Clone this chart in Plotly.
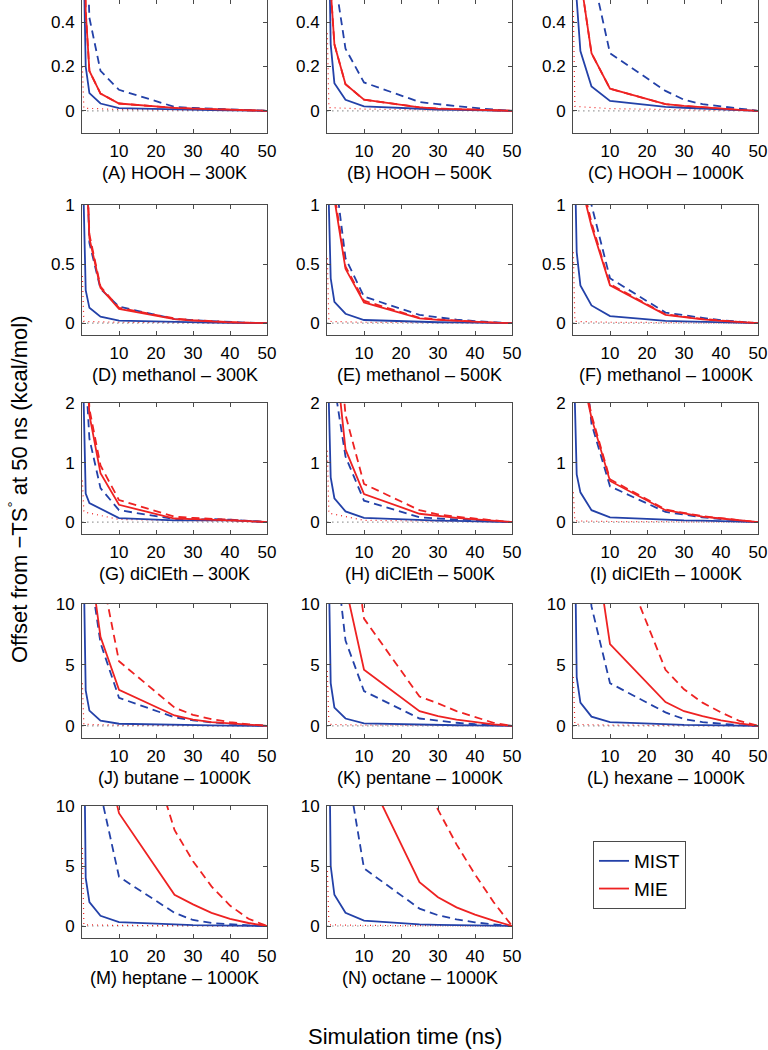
import plotly.graph_objects as go

# sample times (ns) for the convergence curves
T = [0.1, 1, 2, 5, 10, 25, 30, 35, 40, 45, 50]
# sample times for the dotted reference traces
T_DOT = [0.1, 0.5, 10, 50]
ZERO_DOT = [0, 0, 0, 0]

# (A) HOOH 300K
MIST_A = [1.0, 0.2, 0.08, 0.033, 0.012, 0.005, 0.004, 0.003, 0.002, 0.001, 0]
MIST_DASH_A = [3.0, 0.9, 0.42, 0.18, 0.095, 0.018, 0.013, 0.009, 0.006, 0.003, 0]
MIE_A = [1.5, 0.45, 0.18, 0.078, 0.033, 0.013, 0.01, 0.007, 0.005, 0.002, 0]
MIE_DASH_A = [1.5, 0.45, 0.18, 0.078, 0.033, 0.013, 0.01, 0.007, 0.005, 0.002, 0]
DOT_A = [0.2, 0.012, 0.006, 0]

# (B) HOOH 500K
MIST_B = [1.2, 0.3, 0.125, 0.05, 0.02, 0.008, 0.006, 0.004, 0.003, 0.001, 0]
MIST_DASH_B = [3.0, 1.2, 0.61, 0.28, 0.128, 0.04, 0.03, 0.02, 0.013, 0.006, 0]
MIE_B = [2.0, 0.55, 0.3, 0.12, 0.05, 0.016, 0.01, 0.007, 0.005, 0.002, 0]
MIE_DASH_B = [2.0, 0.55, 0.3, 0.12, 0.05, 0.016, 0.01, 0.007, 0.005, 0.002, 0]
DOT_B = [0.35, 0.015, 0.008, 0]

# (C) HOOH 1000K
MIST_C = [1.5, 0.5, 0.27, 0.11, 0.045, 0.018, 0.014, 0.01, 0.006, 0.003, 0]
MIST_DASH_C = [4.0, 2.0, 1.2, 0.64, 0.26, 0.09, 0.05, 0.03, 0.02, 0.01, 0]
MIE_C = [3.0, 1.0, 0.6, 0.26, 0.1, 0.03, 0.022, 0.015, 0.009, 0.004, 0]
MIE_DASH_C = [3.0, 1.0, 0.6, 0.26, 0.1, 0.03, 0.022, 0.015, 0.009, 0.004, 0]
DOT_C = [0.45, 0.02, 0.01, 0]

# (D) methanol 300K
MIST_D = [1.5, 0.28, 0.13, 0.055, 0.022, 0.008, 0.006, 0.004, 0.003, 0.001, 0]
MIST_DASH_D = [4.0, 1.6, 0.68, 0.29, 0.14, 0.035, 0.025, 0.016, 0.01, 0.004, 0]
MIE_D = [4.0, 1.5, 0.72, 0.30, 0.12, 0.035, 0.022, 0.013, 0.007, 0.003, 0]
MIE_DASH_D = [4.5, 1.6, 0.75, 0.31, 0.13, 0.04, 0.026, 0.016, 0.009, 0.004, 0]
DOT_D = [0.4, 0.015, 0.008, 0]

# (E) methanol 500K
MIST_E = [1.5, 0.38, 0.18, 0.08, 0.027, 0.01, 0.008, 0.006, 0.004, 0.002, 0]
MIST_DASH_E = [5.0, 2.5, 1.3, 0.55, 0.225, 0.07, 0.05, 0.03, 0.018, 0.008, 0]
MIE_E = [5.0, 2.5, 1.05, 0.46, 0.176, 0.04, 0.028, 0.018, 0.01, 0.004, 0]
MIE_DASH_E = [5.0, 2.6, 1.1, 0.48, 0.19, 0.045, 0.032, 0.02, 0.012, 0.005, 0]
DOT_E = [0.55, 0.015, 0.008, 0]

# (F) methanol 1000K
MIST_F = [2.0, 0.6, 0.32, 0.15, 0.06, 0.02, 0.015, 0.01, 0.006, 0.003, 0]
MIST_DASH_F = [6.0, 3.5, 2.5, 1.0, 0.38, 0.09, 0.065, 0.045, 0.025, 0.01, 0]
MIE_F = [5.0, 2.5, 1.2, 0.82, 0.32, 0.07, 0.05, 0.033, 0.02, 0.008, 0]
MIE_DASH_F = [5.0, 2.6, 1.25, 0.85, 0.33, 0.075, 0.054, 0.036, 0.022, 0.009, 0]
DOT_F = [0.6, 0.015, 0.008, 0]

# (G) diClEth 300K
MIST_G = [3.0, 0.48, 0.32, 0.22, 0.067, 0.03, 0.03, 0.04, 0.03, 0.015, 0]
MIST_DASH_G = [5.0, 2.5, 1.4, 0.57, 0.2, 0.05, 0.04, 0.05, 0.04, 0.02, 0]
MIE_G = [5.0, 3.0, 1.8, 0.82, 0.29, 0.06, 0.05, 0.045, 0.03, 0.015, 0]
MIE_DASH_G = [6.0, 3.5, 1.9, 0.95, 0.37, 0.09, 0.07, 0.06, 0.04, 0.02, 0]
DOT_G = [0.7, 0.17, 0.045, 0]

# (H) diClEth 500K
MIST_H = [3.0, 0.75, 0.4, 0.18, 0.07, 0.03, 0.025, 0.02, 0.015, 0.008, 0]
MIST_DASH_H = [6.0, 3.5, 2.3, 1.1, 0.36, 0.08, 0.06, 0.045, 0.03, 0.015, 0]
MIE_H = [6.0, 4.0, 3.0, 1.22, 0.47, 0.14, 0.1, 0.07, 0.045, 0.02, 0]
MIE_DASH_H = [7.0, 5.0, 4.0, 1.8, 0.64, 0.2, 0.13, 0.09, 0.06, 0.03, 0]
DOT_H = [1.2, 0.15, 0.03, 0]

# (I) diClEth 1000K
MIST_I = [3.0, 0.8, 0.5, 0.2, 0.08, 0.035, 0.03, 0.025, 0.018, 0.008, 0]
MIST_DASH_I = [7.0, 5.0, 3.5, 1.65, 0.6, 0.17, 0.12, 0.08, 0.05, 0.02, 0]
MIE_I = [7.0, 4.5, 2.6, 1.75, 0.69, 0.2, 0.14, 0.09, 0.06, 0.025, 0]
MIE_DASH_I = [7.0, 4.6, 2.7, 1.8, 0.72, 0.21, 0.15, 0.1, 0.065, 0.028, 0]
DOT_I = [0.5, 0.02, 0.01, 0]

# (J) butane 1000K
MIST_J = [20, 2.9, 1.25, 0.42, 0.17, 0.05, 0.04, 0.03, 0.02, 0.01, 0]
MIST_DASH_J = [30, 20, 13, 6.8, 2.3, 0.7, 0.45, 0.28, 0.15, 0.07, 0]
MIE_J = [40, 25, 14, 7.3, 2.95, 0.85, 0.5, 0.3, 0.18, 0.08, 0]
MIE_DASH_J = [50, 35, 22, 13, 5.3, 1.5, 0.9, 0.55, 0.3, 0.12, 0]
DOT_J = [3.5, 0.12, 0.06, 0]

# (K) pentane 1000K
MIST_K = [20, 3.5, 1.5, 0.6, 0.2, 0.08, 0.06, 0.045, 0.03, 0.015, 0]
MIST_DASH_K = [35, 22, 15, 7.0, 2.85, 0.6, 0.4, 0.25, 0.13, 0.05, 0]
MIE_K = [40, 25, 18, 11.5, 4.6, 1.2, 0.8, 0.5, 0.3, 0.12, 0]
MIE_DASH_K = [60, 40, 30, 20, 8.8, 2.4, 1.85, 1.2, 0.7, 0.25, 0]
DOT_K = [4.5, 0.12, 0.06, 0]

# (L) hexane 1000K
MIST_L = [25, 4.0, 1.9, 0.75, 0.3, 0.1, 0.08, 0.06, 0.04, 0.02, 0]
MIST_DASH_L = [40, 25, 18, 9.8, 3.5, 1.1, 0.55, 0.3, 0.15, 0.05, 0]
MIE_L = [50, 30, 25, 17, 6.7, 1.95, 1.2, 0.8, 0.45, 0.2, 0]
MIE_DASH_L = [70, 50, 35, 25, 16, 4.6, 3.0, 1.9, 1.1, 0.4, 0]
DOT_L = [4.0, 0.12, 0.06, 0]

# (M) heptane 1000K
MIST_M = [30, 4.0, 2.0, 0.85, 0.33, 0.1, 0.08, 0.06, 0.04, 0.02, 0]
MIST_DASH_M = [50, 30, 20, 11.1, 4.1, 1.1, 0.5, 0.25, 0.12, 0.05, 0]
MIE_M = [60, 40, 30, 16, 9.4, 2.6, 1.8, 1.1, 0.6, 0.25, 0]
MIE_DASH_M = [80, 60, 45, 35, 23, 8.0, 5.4, 3.3, 1.7, 0.6, 0]
DOT_M = [6.5, 0.1, 0.05, 0]

# (N) octane 1000K
MIST_N = [30, 5.0, 2.6, 1.1, 0.45, 0.14, 0.1, 0.07, 0.05, 0.02, 0]
MIST_DASH_N = [50, 35, 25, 14, 4.8, 1.45, 0.9, 0.55, 0.3, 0.13, 0]
MIE_N = [60, 40, 30, 20, 13.2, 3.65, 2.4, 1.55, 0.95, 0.45, 0]
MIE_DASH_N = [90, 70, 55, 45, 30, 12.5, 9.7, 6.8, 4.3, 2.0, 0]
DOT_N = [5.0, 0.1, 0.05, 0]

PANELS = [
    ("(A) HOOH – 300K", MIST_A, MIST_DASH_A, MIE_A, MIE_DASH_A, DOT_A),
    ("(B) HOOH – 500K", MIST_B, MIST_DASH_B, MIE_B, MIE_DASH_B, DOT_B),
    ("(C) HOOH – 1000K", MIST_C, MIST_DASH_C, MIE_C, MIE_DASH_C, DOT_C),
    ("(D) methanol – 300K", MIST_D, MIST_DASH_D, MIE_D, MIE_DASH_D, DOT_D),
    ("(E) methanol – 500K", MIST_E, MIST_DASH_E, MIE_E, MIE_DASH_E, DOT_E),
    ("(F) methanol – 1000K", MIST_F, MIST_DASH_F, MIE_F, MIE_DASH_F, DOT_F),
    ("(G) diClEth – 300K", MIST_G, MIST_DASH_G, MIE_G, MIE_DASH_G, DOT_G),
    ("(H) diClEth – 500K", MIST_H, MIST_DASH_H, MIE_H, MIE_DASH_H, DOT_H),
    ("(I) diClEth – 1000K", MIST_I, MIST_DASH_I, MIE_I, MIE_DASH_I, DOT_I),
    ("(J) butane – 1000K", MIST_J, MIST_DASH_J, MIE_J, MIE_DASH_J, DOT_J),
    ("(K) pentane – 1000K", MIST_K, MIST_DASH_K, MIE_K, MIE_DASH_K, DOT_K),
    ("(L) hexane – 1000K", MIST_L, MIST_DASH_L, MIE_L, MIE_DASH_L, DOT_L),
    ("(M) heptane – 1000K", MIST_M, MIST_DASH_M, MIE_M, MIE_DASH_M, DOT_M),
    ("(N) octane – 1000K", MIST_N, MIST_DASH_N, MIE_N, MIE_DASH_N, DOT_N),
]

Y_RANGES = [[-0.1, 0.5], [-0.1, 1], [-0.2, 2], [-1, 10], [-1, 10]]
Y_TICKS = [[0, 0.2, 0.4], [0, 0.5, 1], [0, 1, 2], [0, 5, 10], [0, 5, 10]]
X_TICKS = [10, 20, 30, 40, 50]

# page layout in pixels
W, H = 768, 1050
COLS = [(82, 267), (327, 512), (573, 758)]
ROWS = [(0, 133), (205, 335), (403, 534), (604, 738), (806, 938)]

BLUE = "#2341a8"
RED = "#ee2222"
AXIS = "#4a4a4a"
FONT = "Liberation Sans, Arial, sans-serif"

fig = go.Figure()
layout = {}
annotations = []

for i, (title, mist, mist_d, mie, mie_d, dot) in enumerate(PANELS):
    r, c = divmod(i, 3)
    n = i + 1
    xa = "x" if n == 1 else f"x{n}"
    ya = "y" if n == 1 else f"y{n}"
    x0, x1 = COLS[c]
    top, bot = ROWS[r]

    fig.add_trace(go.Scatter(x=T_DOT, y=ZERO_DOT, mode="lines", xaxis=xa, yaxis=ya,
                             line=dict(color="#666666", width=1.2, dash="1px,4px"),
                             showlegend=False, hoverinfo="skip"))
    fig.add_trace(go.Scatter(x=T_DOT, y=dot, mode="lines", xaxis=xa, yaxis=ya,
                             line=dict(color=RED, width=1.2, dash="1px,4px"),
                             showlegend=False, hoverinfo="skip"))
    fig.add_trace(go.Scatter(x=T, y=mist_d, mode="lines", xaxis=xa, yaxis=ya,
                             line=dict(color=BLUE, width=1.8, dash="8px,5px"),
                             showlegend=False))
    fig.add_trace(go.Scatter(x=T, y=mie_d, mode="lines", xaxis=xa, yaxis=ya,
                             line=dict(color=RED, width=1.8, dash="8px,5px"),
                             showlegend=False))
    fig.add_trace(go.Scatter(x=T, y=mist, mode="lines", xaxis=xa, yaxis=ya,
                             line=dict(color=BLUE, width=1.8),
                             name="MIST", showlegend=(i == 0)))
    fig.add_trace(go.Scatter(x=T, y=mie, mode="lines", xaxis=xa, yaxis=ya,
                             line=dict(color=RED, width=1.8),
                             name="MIE", showlegend=(i == 0)))

    axis_common = dict(
        showline=True, linecolor=AXIS, linewidth=1, mirror="ticks",
        ticks="inside", ticklen=4, tickcolor=AXIS, showgrid=False,
        zeroline=False, tickfont=dict(size=17, color="black", family=FONT),
    )
    layout["xaxis" if n == 1 else f"xaxis{n}"] = dict(
        axis_common, domain=[x0 / W, x1 / W], anchor=ya, range=[0, 50],
        tickvals=X_TICKS, ticklabelstandoff=3,
    )
    layout["yaxis" if n == 1 else f"yaxis{n}"] = dict(
        axis_common, domain=[1 - bot / H, 1 - top / H], anchor=xa,
        range=Y_RANGES[r], tickvals=Y_TICKS[r], ticklabelstandoff=3,
    )
    annotations.append(dict(
        text=title, xref="paper", yref="paper", x=(x0 + x1) / 2 / W,
        y=1 - (bot + 40) / H, xanchor="center", yanchor="middle",
        showarrow=False, font=dict(size=18, color="black", family=FONT),
    ))

annotations.append(dict(
    text="Offset from −TS<sup>°</sup> at 50 ns (kcal/mol)", textangle=-90,
    xref="paper", yref="paper", x=18 / W, y=1 - 490 / H,
    xanchor="center", yanchor="middle", showarrow=False,
    font=dict(size=22, color="black", family=FONT),
))
annotations.append(dict(
    text="Simulation time (ns)", xref="paper", yref="paper",
    x=405 / W, y=1 - 1036 / H, xanchor="center", yanchor="middle",
    showarrow=False, font=dict(size=22, color="black", family=FONT),
))

fig.update_layout(
    **layout,
    annotations=annotations,
    width=W, height=H,
    margin=dict(l=0, r=0, t=0, b=0, autoexpand=False),
    paper_bgcolor="white", plot_bgcolor="white",
    showlegend=True,
    legend=dict(
        x=593 / W, y=1 - 841 / H, xanchor="left", yanchor="top",
        bordercolor=AXIS, borderwidth=1, bgcolor="white",
        font=dict(size=19, color="black", family=FONT),
        tracegroupgap=0,
    ),
)

# the page body has a default margin; drop it so the figure sits at the top-left
fig.write_html("out.html", config={"displayModeBar": False},
               post_script="document.body.style.margin='0';")
